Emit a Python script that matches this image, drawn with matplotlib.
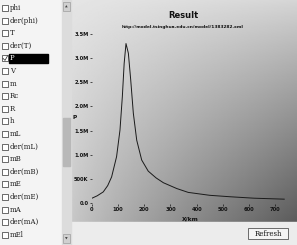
import numpy as np
import matplotlib
matplotlib.use("Agg")
import matplotlib.pyplot as plt
from matplotlib.patches import Rectangle

# ---- data ----
list_items = ["phi", "der(phi)", "T", "der(T)", "P", "V", "m", "Rc", "R", "h",
              "mL", "der(mL)", "mB", "der(mB)", "mE", "der(mE)", "mA", "der(mA)", "mEl"]
selected_item = "P"

x_km = [0, 20, 43, 60, 75, 94, 107, 116, 123, 130, 139, 148, 158, 171, 190,
        215, 245, 273, 324, 368, 450, 528, 620, 735]
p_val = [0.10, 0.15, 0.23, 0.36, 0.54, 0.96, 1.51, 2.20, 2.89, 3.30, 3.10, 2.55,
         1.86, 1.30, 0.89, 0.66, 0.52, 0.42, 0.30, 0.22, 0.16, 0.13, 0.10, 0.08]

x_ticks = [0, 100, 200, 300, 400, 500, 600, 700]
y_ticks = [0.0, 0.5, 1.0, 1.5, 2.0, 2.5, 3.0, 3.5]
y_tick_labels = ["0.0", "500K", "1.0M", "1.5M", "2.0M", "2.5M", "3.0M", "3.5M"]

title = "Result"
subtitle = "http://model.tsinghua.edu.cn/model/1383282.xml"
x_label = "X/km"
y_label = "P"

W, H = 297, 245
fig = plt.figure(figsize=(W / 100, H / 100), dpi=100)
fig.patch.set_facecolor("#f2f2f2")

def fx(px):
    return px / W

def fy(py):
    return 1 - py / H

# ---- overlay axes in pixel coords ----
ov = fig.add_axes([0, 0, 1, 1])
ov.set_xlim(0, W)
ov.set_ylim(H, 0)
ov.axis("off")

# gradient chart panel
gx = np.linspace(0, 1, 200)
gy = np.linspace(0, 1, 200)
GX, GY = np.meshgrid(gx, gy)
grad = 0.90 - 0.12 * GY - 0.06 * GX - 0.36 * (GX * GY) ** 0.9
ov.imshow(grad, cmap="gray", vmin=0, vmax=1, extent=[72, W, 222, 0],
          aspect="auto", interpolation="bilinear", zorder=0)
ov.add_patch(Rectangle((0, 222), W, H - 222, color="#ececec", zorder=1))
ov.add_patch(Rectangle((0, 0), 62, 245, color="#f4f4f4", zorder=1))

# scrollbar
ov.add_patch(Rectangle((62, 0), 9, 245, color="#dcdcdc", zorder=2))
ov.add_patch(Rectangle((62.5, 118), 7.5, 48, color="#b8b8b8", zorder=3))
ov.add_patch(Rectangle((62.5, 2), 7.5, 9, facecolor="#d0d0d0", edgecolor="#909090", lw=0.4, zorder=3))
ov.add_patch(Rectangle((62.5, 234), 7.5, 9, facecolor="#d0d0d0", edgecolor="#909090", lw=0.4, zorder=3))
ov.text(66.2, 6.5, "\u25b2", fontsize=2.5, ha="center", va="center", color="#404040", zorder=4)
ov.text(66.2, 238.5, "\u25bc", fontsize=2.5, ha="center", va="center", color="#404040", zorder=4)

# list of checkboxes
for i, name in enumerate(list_items):
    yc = 8 + i * 12.6
    ov.add_patch(Rectangle((2, yc - 3), 6, 6, facecolor="white", edgecolor="#303030", lw=0.5, zorder=3))
    if name == selected_item:
        ov.add_patch(Rectangle((9, yc - 4.5), 39, 9, color="black", zorder=3))
        ov.plot([3, 5, 7.5], [yc, yc + 2, yc - 2.5], color="#202020", lw=0.5, zorder=4)
        ov.text(10, yc, name, fontsize=5, family="DejaVu Serif", color="white",
                va="center", ha="left", zorder=4)
    else:
        ov.text(10, yc, name, fontsize=5, family="DejaVu Serif", color="#202020",
                va="center", ha="left", zorder=4)

# title & subtitle
ov.text(183, 15, title, fontsize=6, fontweight="bold", ha="center", va="center", color="#111111", zorder=4)
ov.text(183, 27, subtitle, fontsize=3.2, fontweight="bold", ha="center", va="center", color="#111111", zorder=4)

# refresh button
ov.add_patch(Rectangle((248, 228), 40, 11, facecolor="#f4f4f4", edgecolor="#555555", lw=0.6, zorder=3))
ov.text(268, 233.5, "Refresh", fontsize=5, family="DejaVu Serif", ha="center", va="center",
        color="#111111", zorder=4)

# axis labels
ov.text(75, 117, y_label, fontsize=4.2, fontweight="bold", ha="center", va="center", color="#111111", zorder=4)
ov.text(190, 219, x_label, fontsize=4.2, fontweight="bold", ha="center", va="center", color="#111111", zorder=4)

# ---- plot axes ----
ax_left, ax_right, ax_top, ax_bottom = 92, 285, 30, 204
ax = fig.add_axes([fx(ax_left), fy(ax_bottom), (ax_right - ax_left) / W, (ax_bottom - ax_top) / H])
ax.patch.set_alpha(0)
ax.plot(x_km, p_val, color="#1a1a1a", lw=0.7)
ax.set_xlim(0, 738)
ax.set_ylim(-0.02, 3.58)
ax.set_xticks(x_ticks)
ax.set_xticklabels([str(v) for v in x_ticks])
ax.set_yticks(y_ticks)
ax.set_yticklabels(y_tick_labels)
for s in ax.spines.values():
    s.set_visible(False)
ax.tick_params(axis="both", labelsize=3.7, length=1.5, width=0.5, pad=1, colors="#111111")
for lab in ax.get_xticklabels() + ax.get_yticklabels():
    lab.set_fontweight("bold")

fig.savefig("out.png", dpi=100)
